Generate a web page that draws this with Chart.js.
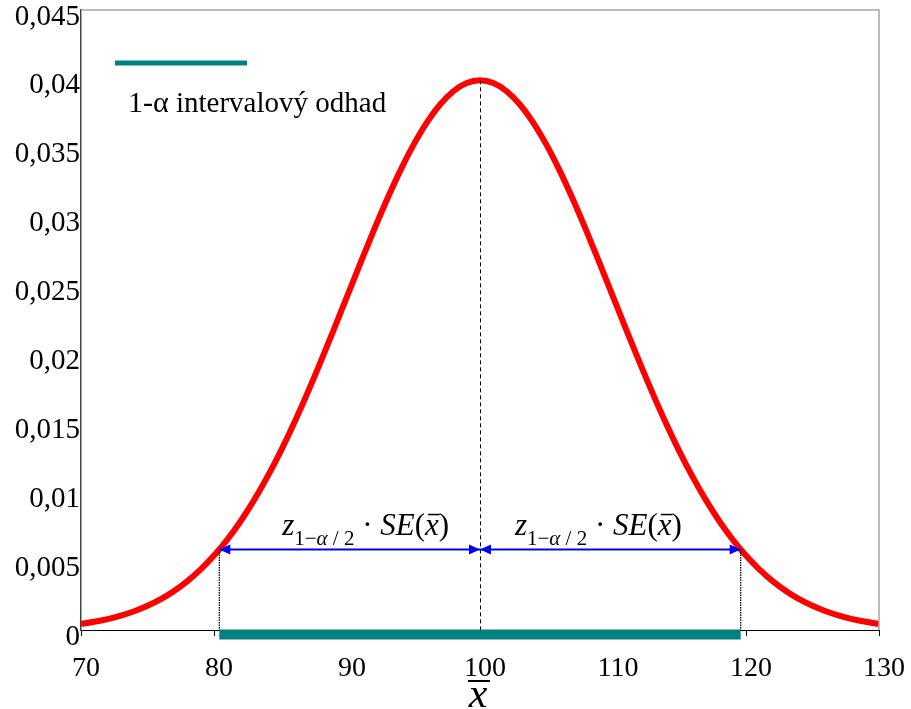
<!DOCTYPE html>
<html>
<head>
<meta charset="utf-8">
<script src="https://cdn.jsdelivr.net/npm/chart.js@4.4.1/dist/chart.umd.min.js"></script>
<style>
  html, body { margin: 0; padding: 0; background: #fff; }
  #wrap { width: 911px; height: 709px; }
</style>
</head>
<body>
<div id="wrap"><canvas id="grafica"></canvas></div>
<script>
// Hustota výběrového průměru (x od 70 do 130)
const xValues = [70, 71, 72, 73, 74, 75, 76, 77, 78, 79, 80, 81, 82, 83, 84, 85, 86, 87, 88, 89,
  90, 91, 92, 93, 94, 95, 96, 97, 98, 99, 100, 101, 102, 103, 104, 105, 106, 107, 108, 109,
  110, 111, 112, 113, 114, 115, 116, 117, 118, 119, 120, 121, 122, 123, 124, 125, 126, 127, 128, 129, 130]
const density = [0.000443, 0.000595, 0.000792, 0.001042, 0.001358, 0.001753, 0.002239, 0.002833, 0.003547, 0.004398,
  0.005399, 0.006562, 0.007895, 0.009405, 0.011092, 0.012952, 0.014973, 0.017137, 0.019419, 0.021785,
  0.024197, 0.026609, 0.028969, 0.031225, 0.033322, 0.035207, 0.036827, 0.038139, 0.039104, 0.039695,
  0.039894,
  0.039695, 0.039104, 0.038139, 0.036827, 0.035207, 0.033322, 0.031225, 0.028969, 0.026609, 0.024197,
  0.021785, 0.019419, 0.017137, 0.014973, 0.012952, 0.011092, 0.009405, 0.007895, 0.006562, 0.005399,
  0.004398, 0.003547, 0.002833, 0.002239, 0.001753, 0.001358, 0.001042, 0.000792, 0.000595, 0.000443]

// Interval
const mean = 100
const peak = 0.039894
const interval = [80.4, 119.6]
const arrowLevel = 0.00584
const formulaAnchors = [91.4, 108.9]
const legendLabel = ['1-α', ' intervalový odhad']

const serif = '"Liberation Serif", "Times New Roman", serif'
const teal = 'rgb(0,128,128)'

function drawArrowHead(ctx, x, y, dir) {
  ctx.beginPath()
  ctx.moveTo(x, y)
  ctx.lineTo(x - dir * 11, y - 5)
  ctx.lineTo(x - dir * 11, y + 5)
  ctx.closePath()
  ctx.fill()
}

function drawFormula(ctx, cx, baseline) {
  const parts = [
    { t: 'z', f: 'italic 31px ' + serif, dy: 0 },
    { t: '1−', f: '21px ' + serif, dy: 10 },
    { t: 'α', f: 'italic 21px ' + serif, dy: 10 },
    { t: ' / 2', f: '21px ' + serif, dy: 10 },
    { t: ' · ', f: '31px ' + serif, dy: 0 },
    { t: 'SE', f: 'italic 31px ' + serif, dy: 0 },
    { t: '(', f: '31px ' + serif, dy: 0 },
    { t: 'x', f: 'italic 31px ' + serif, dy: 0, bar: true },
    { t: ')', f: '31px ' + serif, dy: 0 }
  ]
  let total = 0
  parts.forEach(p => { ctx.font = p.f; p.w = ctx.measureText(p.t).width; total += p.w })
  let x = cx - total / 2
  ctx.fillStyle = '#000'
  ctx.textAlign = 'left'
  ctx.textBaseline = 'alphabetic'
  parts.forEach(p => {
    ctx.font = p.f
    ctx.fillText(p.t, x, baseline + p.dy)
    if (p.bar) {
      ctx.lineWidth = 1.5
      ctx.strokeStyle = '#000'
      ctx.beginPath()
      ctx.moveTo(x + 3, baseline - 20)
      ctx.lineTo(x + p.w + 1, baseline - 20)
      ctx.stroke()
    }
    x += p.w
  })
}

const annotations = {
  id: 'annotations',
  afterDatasetsDraw(chart) {
    const ctx = chart.ctx
    const xs = chart.scales.x
    const ys = chart.scales.y
    const area = chart.chartArea
    const y0 = ys.getPixelForValue(0)
    const ya = ys.getPixelForValue(arrowLevel)
    const xl = xs.getPixelForValue(interval[0])
    const xr = xs.getPixelForValue(interval[1])
    const xm = xs.getPixelForValue(mean)

    ctx.save()
    // ram nahore a vpravo
    ctx.strokeStyle = '#a6a6a6'
    ctx.lineWidth = 1.5
    ctx.beginPath()
    ctx.moveTo(area.left, area.top)
    ctx.lineTo(area.right, area.top)
    ctx.lineTo(area.right, area.bottom)
    ctx.stroke()

    // stredni hodnota
    ctx.strokeStyle = '#000'
    ctx.lineWidth = 1
    ctx.setLineDash([4, 3])
    ctx.beginPath()
    ctx.moveTo(xm + 0.5, ys.getPixelForValue(peak))
    ctx.lineTo(xm + 0.5, y0)
    ctx.stroke()

    // hranice intervalu
    ctx.lineWidth = 1.3
    ctx.setLineDash([1.5, 1])
    ctx.beginPath()
    ctx.moveTo(xl, ya); ctx.lineTo(xl, y0)
    ctx.moveTo(xr, ya); ctx.lineTo(xr, y0)
    ctx.stroke()
    ctx.setLineDash([])

    // sipky
    ctx.strokeStyle = 'rgb(0,0,255)'
    ctx.fillStyle = 'rgb(0,0,255)'
    ctx.lineWidth = 2
    ctx.beginPath()
    ctx.moveTo(xl, ya); ctx.lineTo(xr, ya)
    ctx.stroke()
    drawArrowHead(ctx, xl, ya, -1)
    drawArrowHead(ctx, xm, ya, 1)
    drawArrowHead(ctx, xm, ya, -1)
    drawArrowHead(ctx, xr, ya, 1)

    // intervalovy odhad
    ctx.strokeStyle = teal
    ctx.lineWidth = 10
    ctx.beginPath()
    ctx.moveTo(xl, y0 + 4.5)
    ctx.lineTo(xr, y0 + 4.5)
    ctx.stroke()

    // vzorce
    formulaAnchors.forEach(v => drawFormula(ctx, xs.getPixelForValue(v), ya - 15))

    // legenda
    ctx.strokeStyle = teal
    ctx.lineWidth = 5
    ctx.beginPath()
    ctx.moveTo(area.left + 34, area.top + 53)
    ctx.lineTo(area.left + 166, area.top + 53)
    ctx.stroke()
    ctx.fillStyle = '#000'
    ctx.textAlign = 'left'
    ctx.textBaseline = 'alphabetic'
    ctx.font = '30px ' + serif
    ctx.fillText(legendLabel[0], area.left + 47, area.top + 102)
    const w = ctx.measureText(legendLabel[0]).width
    ctx.font = '29px ' + serif
    ctx.fillText(legendLabel[1], area.left + 47 + w, area.top + 102)

    // popis osy x
    ctx.font = 'italic 42px ' + serif
    ctx.textAlign = 'center'
    ctx.fillText('x', xm - 2, y0 + 77)
    ctx.strokeStyle = '#000'
    ctx.lineWidth = 2
    ctx.beginPath()
    ctx.moveTo(xm - 12, y0 + 51)
    ctx.lineTo(xm + 10, y0 + 51)
    ctx.stroke()
    ctx.restore()
  }
}

const graph = document.querySelector('#grafica')

const data = {
  datasets: [{
    data: xValues.map((x, i) => ({ x: x, y: density[i] })),
    borderColor: 'rgb(255,0,0)',
    borderWidth: 6,
    pointRadius: 0,
    cubicInterpolationMode: 'monotone',
    fill: false
  }]
}

const config = {
  type: 'line',
  data: data,
  options: {
    responsive: true,
    maintainAspectRatio: false,
    animation: false,
    layout: { padding: { top: 10, right: 32, left: 0, bottom: 0 } },
    plugins: { legend: { display: false }, tooltip: { enabled: false } },
    scales: {
      x: {
        type: 'linear',
        min: 70,
        max: 130,
        grid: { drawOnChartArea: false, drawTicks: true, tickLength: 6, color: '#000' },
        border: { display: true, color: '#000', width: 1 },
        ticks: {
          stepSize: 10,
          color: '#000',
          font: { family: serif, size: 28 },
          padding: 16,
          labelOffset: 5,
          maxRotation: 0
        },
        afterFit: s => { s.height = 79; s.paddingLeft = 0; s.paddingRight = 0 }
      },
      y: {
        min: 0,
        max: 0.045,
        grid: { drawOnChartArea: false, drawTicks: false },
        border: { display: true, color: '#444', width: 1.5 },
        ticks: {
          stepSize: 0.005,
          color: '#000',
          font: { family: serif, size: 29 },
          padding: 1,
          labelOffset: 7,
          callback: v => v === 0 ? '0' : v.toFixed(3).replace(/0+$/, '').replace('.', ',')
        },
        afterFit: s => { s.width = 81; s.paddingTop = 0; s.paddingBottom = 0 }
      }
    }
  },
  plugins: [annotations]
}

new Chart(graph, config)
</script>
</body>
</html>
